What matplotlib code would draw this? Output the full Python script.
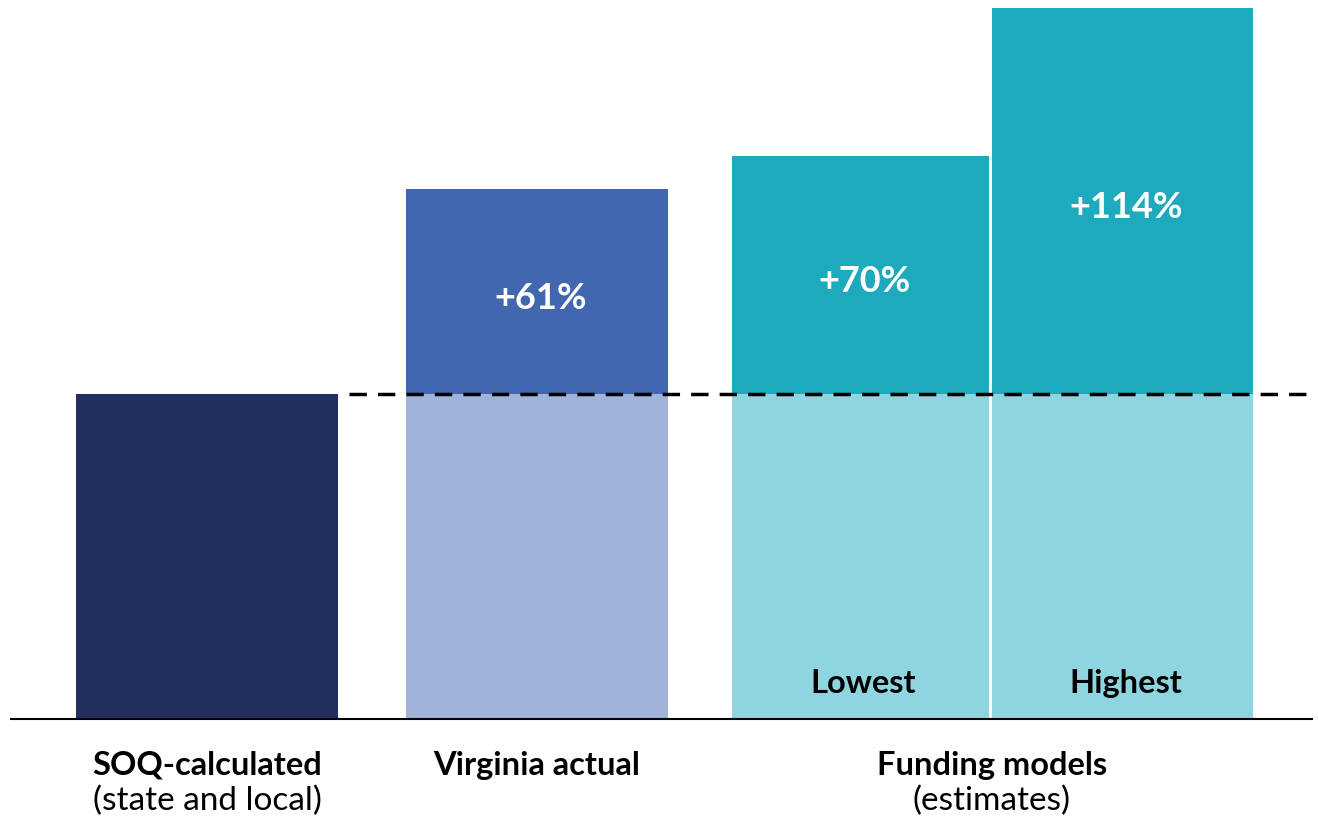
import matplotlib
matplotlib.use("Agg")
import matplotlib.pyplot as plt

plt.rcParams['font.family'] = ['Lato', 'DejaVu Sans']

# bar heights relative to the SOQ-calculated amount
bar_names = ['SOQ-calculated', 'Virginia actual', 'Lowest', 'Highest']
bar_values = [1.0, 1.63, 1.732, 2.188]
pct_labels = ['', '+61%', '+70%', '+114%']
group_titles = ['SOQ-calculated', 'Virginia actual', 'Funding models']
group_subtitles = ['(state and local)', '', '(estimates)']

# layout (pixel-like units on a 1318 wide canvas)
bar_x = [207, 537, 860.5, 1122.5]
bar_w = [262, 262, 257, 261]
group_x = [207, 537, 992]
base_colors = ['#232F5F', '#A0B4DA', '#8FD5E0', '#8FD5E0']
top_colors = ['#232F5F', '#4067B0', '#1EAABD', '#1EAABD']

fig = plt.figure(figsize=(13.18, 8.18), dpi=100)
ax = fig.add_axes([0, 0, 1, 1])
ax.set_xlim(0, 1318)
ax.set_ylim(-0.3046, 2.212)
ax.axis('off')

base = bar_values[0]
for i in range(len(bar_values)):
    v = bar_values[i]
    ax.bar(bar_x[i], min(v, base), width=bar_w[i], color=base_colors[i], align='center', linewidth=0)
    if v > base:
        ax.bar(bar_x[i], v - base, bottom=base, width=bar_w[i], color=top_colors[i], align='center', linewidth=0)
        ax.text(bar_x[i] + 4, (base + v) / 2 - 0.02, pct_labels[i], color='white', fontsize=26,
                fontweight='bold', ha='center', va='center')

# Lowest / Highest labels inside the funding model bars
for i in [2, 3]:
    ax.text(bar_x[i] + 3, 0.108, bar_names[i], fontsize=23.5, fontweight='bold', ha='center', va='center', color='black')

# baseline and SOQ reference line
ax.plot([10, 1313], [0, 0], color='black', linewidth=1.5, solid_capstyle='butt')
ax.plot([349, 1310], [base, base], color='black', linewidth=2.5, dashes=(5, 3.2))

# group labels under the axis
for i in range(len(group_titles)):
    ax.text(group_x[i], -0.142, group_titles[i], fontsize=23.5, fontweight='bold', ha='center', va='center')
    if group_subtitles[i]:
        ax.text(group_x[i], -0.252, group_subtitles[i], fontsize=24, ha='center', va='center')

fig.savefig('out.png', dpi=100)
